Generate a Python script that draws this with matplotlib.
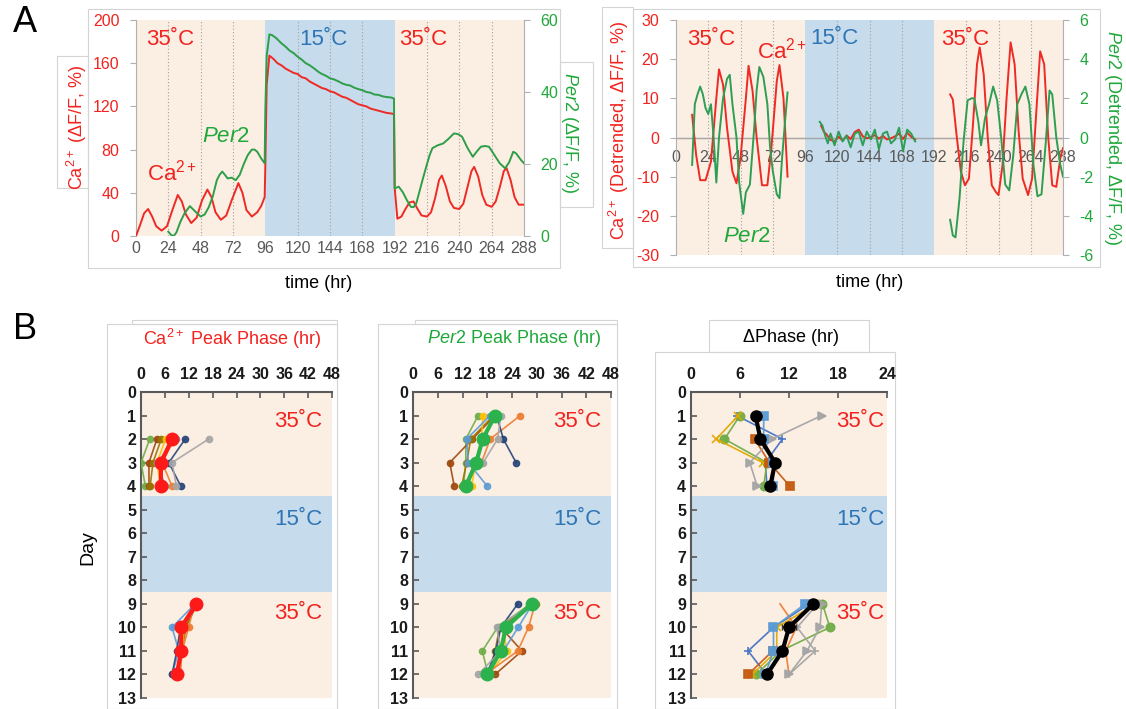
import numpy as np
import matplotlib
matplotlib.use('Agg')
import matplotlib.pyplot as plt
from matplotlib.patches import Rectangle

plt.rcParams['font.family'] = ['Liberation Sans', 'DejaVu Sans']
plt.rcParams['mathtext.fontset'] = 'custom'
plt.rcParams['mathtext.rm'] = 'Liberation Sans'
plt.rcParams['mathtext.it'] = 'Liberation Sans:italic'
plt.rcParams['mathtext.bf'] = 'Liberation Sans:bold'
plt.rcParams['axes.unicode_minus'] = False

RED = '#f2231f'
GREEN = '#1fa83a'
BLUE_TXT = '#2e75b6'
PEACH = '#fbeee3'
COOL = '#c6dbeb'
GRAY_TXT = '#595959'

# ---------------- data: panel A (raw traces) ----------------
span_edges = [0, 96, 192, 288]
span_cols = [PEACH, COOL, PEACH]
grid_hours = [24, 48, 72, 120, 144, 168, 216, 240, 264]

ca_t = [0, 3, 6, 9, 12, 15, 19, 23, 27, 31, 34, 37, 41, 45, 49, 53, 56, 59, 63, 67,
        71, 76, 79, 82, 86, 90, 93, 95.5, 96, 97, 99, 102, 105, 108, 111, 114, 117, 120, 123, 126,
        129, 132, 135, 138, 141, 144, 147, 150, 153, 156, 159, 162, 165, 168, 171, 174, 177, 180, 183, 186,
        189, 191.5, 192, 194, 197, 200, 203, 206, 209, 212, 216, 219, 222, 225, 227, 230, 233, 236, 240, 243,
        246, 249, 251, 254, 257, 260, 264, 267, 270, 273, 275, 278, 281, 284, 288]
ca_v = [0, 10, 21, 25, 18, 9, 5, 9, 24, 38, 32, 20, 12, 17, 33, 43, 36, 22, 15, 19,
        33, 49, 40, 24, 18, 22, 28, 36, 65, 140, 167, 164, 160, 158, 155, 153, 151, 150, 147, 146,
        143, 141, 139, 137, 136, 134, 133, 131, 129, 128, 126, 124, 122, 121, 120, 118, 117, 116, 115, 114,
        113.5, 113, 45, 16, 18, 25, 31, 32, 25, 19, 18, 22, 35, 52, 56, 46, 32, 26, 25, 30,
        45, 60, 64, 55, 38, 29, 27, 32, 45, 60, 63, 52, 36, 29, 29]

per_t = [24, 26, 28, 30, 33, 36, 40, 44, 48, 51, 54, 57, 60, 62, 64, 66, 68, 71, 74, 77,
         80, 83, 86, 88, 90, 93, 95.5, 96, 97, 99, 101, 104, 108, 111, 114, 117, 120, 123, 126, 129,
         132, 135, 138, 141, 144, 147, 150, 153, 156, 159, 162, 165, 168, 171, 174, 177, 180, 183, 186, 189,
         191.5, 192, 195, 198, 201, 204, 206, 208, 210, 213, 216, 218, 220, 224, 228, 232, 236, 239, 242, 246,
         250, 253, 256, 259, 262, 266, 270, 274, 277, 280, 282, 284, 286, 288]
per_v = [1.2, 0.3, 0, 1, 4, 6.3, 8.3, 6.8, 5.4, 6, 8, 11, 15.5, 17, 17.9, 17, 16, 16.2, 15.5, 17,
         20, 22.5, 24, 24, 23.4, 21.5, 20.2, 35, 50, 56, 55.8, 55, 53.5, 52.6, 51.5, 50.8, 49.8, 49, 48, 47.4,
         46.6, 45.7, 45, 44.5, 43.8, 43.5, 43, 42.4, 42, 41.8, 41.2, 40.8, 40.5, 40, 39.8, 39.3, 39.2, 38.8, 38.6, 38.5,
         38.2, 13.2, 13.7, 12.2, 10, 8.1, 8, 9, 11.8, 16, 20, 22.5, 24.4, 25.2, 25.7, 27, 28.5, 28.3, 27.6, 24.5,
         22, 23.5, 24.8, 25, 24.8, 22.5, 20.2, 18.8, 20.5, 23.4, 23, 22, 21, 20.2]

# ---------------- data: panel A (detrended) ----------------
dca_pre_t = [12, 15, 18, 22, 26, 30, 32, 35, 38, 42, 45, 48, 52, 54, 57, 60, 64, 68, 71, 75, 77, 80, 83]
dca_pre_v = [5.8, -4.5, -10.9, -10.9, -6.2, 10, 17.4, 13.5, 2.4, -8.7, -11.7, -5.3, 10, 18.3, 11.8, 0,
             -12.2, -12.2, -2.7, 14.4, 18.5, 10, -10]
dca_mid_t = [108, 110, 112, 115, 118, 121, 124, 127, 130, 133, 136, 139, 142, 145, 148, 151, 154, 157,
             160, 163, 166, 169, 172, 175, 178]
dca_mid_v = [3.0, 1.5, 0.8, -0.6, -1.0, 0.2, -0.8, 0.5, -0.4, 1.4, 2.0, 0.3, -0.2, 0.1, 0.6, -0.3, 0.4,
             -0.5, -0.2, 0.3, 1.0, -0.4, 1.2, 0.2, -0.5]
dca_post_t = [204, 206, 209, 212, 215, 218, 221, 224, 226, 229, 232, 235, 238, 240, 243, 246, 249, 252,
              255, 258, 262, 265, 268, 271, 274, 277, 280, 283, 286, 288]
dca_post_v = [11, 9.7, 0, -8.7, -12.2, -10.5, 3.3, 18.7, 23, 16.1, 0, -12.2, -13.9, -14.7, -7, 10, 24.3,
              18.7, 1.5, -10.5, -14.7, -10.5, 5.8, 22, 18.7, 0, -12.2, -12.6, -5.3, -2.7]

dper_pre_t = [12, 14, 16, 18, 20, 22, 24, 26, 28, 30, 32, 35, 38, 40, 42, 45, 47, 50, 52, 55, 58, 60,
              62, 65, 68, 70, 72, 75, 77, 79, 81, 83]
dper_pre_v = [-1.4, 1.7, 2.2, 2.6, 2.2, 1.5, 1.2, 1.7, 0, -2.3, 0, 2, 3, 3.2, 1.7, 0, -2.3, -3.9, -2.8,
              -2.4, 0.3, 2.4, 3.6, 3.1, 1.7, -0.5, -1.7, -2.9, -3.1, -1, 0.7, 2.3]
dper_mid_t = [107, 109, 111, 113, 115, 118, 121, 124, 127, 130, 133, 136, 139, 142, 145, 148, 151, 154,
              157, 160, 163, 166, 169, 172, 175, 178]
dper_mid_v = [0.8, 0.6, 0.1, -0.3, 0.2, -0.4, 0.3, -0.2, 0.1, -0.5, 0.2, 0.3, -0.4, 0.3, -0.1, 0.4,
              -0.6, 0.2, 0.3, -0.3, -0.1, 0.5, -0.7, 0.4, 0.2, -0.2]
dper_post_t = [204, 206, 208, 211, 214, 217, 220, 222, 225, 227, 230, 233, 236, 239, 242, 245, 248, 251,
               254, 257, 260, 263, 266, 269, 272, 275, 278, 280, 283, 286, 288]
dper_post_v = [-4.2, -5, -5.1, -3.1, -0.2, 1.9, 2, 2, 0.8, -0.4, 1, 1.7, 2.6, 1.9, 0, -2.4, -2.7, -0.9,
               1.7, 2.2, 2.6, 1.7, -1.4, -3, -2.9, -0.4, 2.4, 2.2, 0, -1.4, -2]

# ---------------- data: panel B (peak phases) ----------------
nan = np.nan
day_edges = [0, 4.4, 8.5, 13]
day_cols = [PEACH, COOL, PEACH]

ca_days = [2, 3, 4, 9, 10, 11, 12]
ca_cells = [
    ('#70ad47', [2.2, 0.0, 1.1, 14.0, 10.5, 10.0, 9.2]),
    ('#9e480e', [4.0, 2.0, 2.0, 14.2, 11.1, 10.1, 9.0]),
    ('#997300', [5.1, 3.0, 2.3, 14.0, 11.3, 10.3, 9.3]),
    ('#ffc000', [6.2, 4.0, 4.9, 13.5, 10.7, 10.6, 9.3]),
    ('#5b9bd5', [8.9, 4.0, 6.1, 13.6, 7.8, 9.5, 7.8]),
    ('#ed7d31', [8.4, 5.3, 7.8, 13.4, 12.0, 10.3, 9.9]),
    ('#264478', [11.1, 7.0, 10.0, 13.6, 9.9, 9.0, 7.8]),
    ('#a5a5a5', [17.0, 7.8, 8.9, nan, nan, nan, nan]),
]
ca_mean = [7.8, 5.0, 5.0, 13.9, 10.1, 10.1, 9.0]

per_days = [1, 2, 3, 4, 9, 10, 11, 12]
per_cells = [
    ('#70ad47', [15.8, 12.8, 12.8, 12.2, 28.5, 20.5, 16.8, 18.2]),
    ('#9e480e', [19.9, 14.4, 8.9, 10.0, 29.3, 21.3, 26.4, 19.9]),
    ('#997300', [19.5, 14.0, 13.0, 11.8, 29.8, 21.0, 19.9, 18.2]),
    ('#ffc000', [17.0, 16.6, 15.2, 14.2, 29.5, 21.9, 22.7, 18.5]),
    ('#5b9bd5', [18.7, 13.0, 13.4, 18.0, 29.0, 25.5, 21.9, 17.0]),
    ('#ed7d31', [26.0, 18.7, 16.6, nan, 29.6, 28.0, 25.4, 17.5]),
    ('#264478', [20.3, 21.9, 25.0, nan, 25.4, 21.3, 20.1, 17.9]),
    ('#a5a5a5', [21.3, 20.5, 17.0, nan, 28.8, 20.3, 21.3, 15.8]),
]
per_mean = [19.9, 16.9, 15.3, 12.8, 28.8, 22.5, 21.3, 18.0]

dph_days = [1, 2, 3, 4, 9, 10, 11, 12]
dph_cells = [
    ('#4472c4', '+', [5.6, 11.2, 9.1, 9.3, 14.5, 10.1, 7.0, 9.2]),
    ('#70ad47', 'o', [6.0, 4.1, 9.3, 8.9, 16.1, 17.0, 11.0, 8.0]),
    ('#e0a800', 'x', [5.8, 3.1, 8.8, nan, 15.3, 10.5, 10.5, 7.5]),
    ('#ed7d31', '', [5.2, nan, 18.1, nan, 10.9, 12.9, 11.6, 12.0]),
    ('#c55a11', 's', [nan, 7.8, 9.6, 12.1, nan, nan, 10.0, 7.0]),
    ('#a5a5a5', '>', [16.0, 9.9, 7.2, 8.1, 16.0, 15.8, 14.2, 12.0]),
    ('#a5a5a5', '+', [nan, nan, nan, nan, 15.5, 13.0, 15.2, 12.0]),
    ('#5b9bd5', 's', [8.9, 8.9, 10.1, 10.1, 14.0, 10.1, 10.1, 9.1]),
]
dph_mean = [7.9, 8.5, 10.3, 9.7, 15.0, 12.0, 11.2, 9.3]
dph_err = [0.5, 0.5, 0.6, 0.3, 0.5, 0.8, 0.5, 0.4]

# ---------------- layout helpers ----------------
W, H = 1126, 709
fig = plt.figure(figsize=(W / 100, H / 100), dpi=100)


def ax_at(x0, y0, x1, y1):
    return fig.add_axes([x0 / W, 1 - y1 / H, (x1 - x0) / W, (y1 - y0) / H])


def frame(x0, y0, x1, y1):
    fig.add_artist(Rectangle((x0 / W, 1 - y1 / H), (x1 - x0) / W, (y1 - y0) / H,
                             transform=fig.transFigure, fill=False, ec='#d4d4d4', lw=0.8, zorder=0))


frame(88, 9, 560, 268); frame(57, 56, 88, 188); frame(560, 62, 593, 207)
frame(633, 9, 1100, 267); frame(602, 7, 633, 248)
frame(107, 324, 337, 709); frame(132, 320, 337, 324)
frame(378, 324, 617, 709); frame(415, 320, 617, 324)
frame(655, 352, 895, 709); frame(709, 320, 869, 352)


def shade_time(ax):
    for a, b, c in zip(span_edges[:-1], span_edges[1:], span_cols):
        ax.axvspan(a, b, color=c, lw=0, zorder=0)
    for t in grid_hours:
        ax.axvline(t, color='#a0a0a0', ls=(0, (1, 2)), lw=0.8, zorder=1)


def style_time_axes(ax, ax2):
    for s in ['top', 'bottom']:
        ax.spines[s].set_visible(False)
        ax2.spines[s].set_visible(False)
    ax.spines['left'].set_color('#b0b0b0')
    ax2.spines['right'].set_color('#b0b0b0')
    ax2.spines['left'].set_visible(False)
    ax.spines['right'].set_visible(False)
    ax.set_xlim(0, 288)
    ax.set_xticks(range(0, 289, 24))
    ax.tick_params(axis='x', length=0, labelsize=11.5, labelcolor=GRAY_TXT)
    ax.tick_params(axis='y', colors='#b0b0b0', labelcolor=RED, labelsize=11.5, length=4, pad=8)
    ax2.tick_params(axis='y', colors='#b0b0b0', labelcolor=GREEN, labelsize=11.5, length=4, pad=8)


# ---------------- panel A left ----------------
axL = ax_at(136, 20, 524, 236)
shade_time(axL)
axL.plot(ca_t, ca_v, color='#ee2a24', lw=1.4, zorder=3)
axL.set_ylim(0, 200)
axL.set_yticks(range(0, 201, 40))
axL2 = axL.twinx()
axL2.plot(per_t, per_v, color='#2e9e48', lw=1.4, zorder=3)
axL2.set_ylim(0, 60)
axL2.set_yticks(range(0, 61, 20))
style_time_axes(axL, axL2)

axL.text(25, 182, '35˚C', color=RED, fontsize=16, ha='center', va='center')
axL.text(139, 182, '15˚C', color=BLUE_TXT, fontsize=16, ha='center', va='center')
axL.text(213, 182, '35˚C', color=RED, fontsize=16, ha='center', va='center')
axL.text(67, 92, r'$\mathit{Per2}$', color=GREEN, fontsize=16, ha='center', va='center', zorder=5)
axL.text(27, 59, 'Ca$^{2+}$', color=RED, fontsize=16, ha='center', va='center', zorder=5)
axL.text(-0.152, 0.505, r'Ca$^{2+}$ ($\mathit{\Delta}$F/F, %)', transform=axL.transAxes,
         rotation=90, color=RED, fontsize=13, ha='center', va='center')
axL.text(1.116, 0.477, r'$\mathit{Per2}$ ($\mathit{\Delta}$F/F, %)', transform=axL.transAxes,
         rotation=270, color=GREEN, fontsize=13, ha='center', va='center')
axL.text(0.47, -0.218, 'time (hr)', transform=axL.transAxes, fontsize=13, ha='center', va='center')

# ---------------- panel A right ----------------
axR = ax_at(676, 20, 1063, 255)
shade_time(axR)
for tt, vv in [(dca_pre_t, dca_pre_v), (dca_mid_t, dca_mid_v), (dca_post_t, dca_post_v)]:
    axR.plot(tt, vv, color='#ee2a24', lw=1.4, zorder=3)
axR.set_ylim(-30, 30)
axR.set_yticks(range(-30, 31, 10))
axR2 = axR.twinx()
for tt, vv in [(dper_pre_t, dper_pre_v), (dper_mid_t, dper_mid_v), (dper_post_t, dper_post_v)]:
    axR2.plot(tt, vv, color='#2e9e55', lw=1.4, zorder=3)
axR2.set_ylim(-6, 6)
axR2.set_yticks(range(-6, 7, 2))
style_time_axes(axR, axR2)
axR.axhline(0, color='#a8a8a8', lw=1.0, zorder=1)
axR.tick_params(axis='x', pad=9)
axR.spines['bottom'].set_visible(True)
axR.spines['bottom'].set_position(('data', 0))
axR.spines['bottom'].set_color('#a8a8a8')

axR.text(26, 24.9, '35˚C', color=RED, fontsize=16, ha='center', va='center')
axR.text(79, 22.3, 'Ca$^{2+}$', color=RED, fontsize=16, ha='center', va='center', zorder=5)
axR.text(118, 25.4, '15˚C', color=BLUE_TXT, fontsize=16, ha='center', va='center')
axR.text(215, 24.9, '35˚C', color=RED, fontsize=16, ha='center', va='center')
axR.text(53, -25.4, r'$\mathit{Per2}$', color=GREEN, fontsize=16, ha='center', va='center', zorder=5)
axR.text(-0.147, 0.53, r'Ca$^{2+}$ (Detrended, $\mathit{\Delta}$F/F, %)', transform=axR.transAxes,
         rotation=90, color=RED, fontsize=13, ha='center', va='center')
axR.text(1.127, 0.5, r'$\mathit{Per2}$ (Detrended, $\mathit{\Delta}$F/F, %)', transform=axR.transAxes,
         rotation=270, color=GREEN, fontsize=13, ha='center', va='center')
axR.text(0.5, -0.119, 'time (hr)', transform=axR.transAxes, fontsize=13, ha='center', va='center')


# ---------------- panel B ----------------
def phase_axes(ax, xmax, xstep, txt_x):
    for a, b, c in zip(day_edges[:-1], day_edges[1:], day_cols):
        ax.axhspan(a, b, color=c, lw=0, zorder=0)
    ax.set_xlim(0, xmax)
    ax.set_ylim(13, 0)
    ax.set_xticks(range(0, xmax + 1, xstep))
    ax.set_yticks(range(0, 14))
    ax.xaxis.tick_top()
    for s in ['right', 'bottom']:
        ax.spines[s].set_visible(False)
    for s in ['left', 'top']:
        ax.spines[s].set_color('#5a5a5a')
        ax.spines[s].set_linewidth(1.5)
    ax.tick_params(direction='in', length=4, width=1.2, color='#5a5a5a', labelsize=11.5,
                   labelcolor='#1a1a1a')
    ax.tick_params(axis='x', pad=7)
    for lab in ax.get_xticklabels() + ax.get_yticklabels():
        lab.set_fontweight('bold')
    ax.text(txt_x, 1.25, '35˚C', transform=ax.get_yaxis_transform(), color=RED, fontsize=16,
            ha='right', va='center')
    ax.text(txt_x, 5.4, '15˚C', transform=ax.get_yaxis_transform(), color=BLUE_TXT, fontsize=16,
            ha='right', va='center')
    ax.text(txt_x, 9.4, '35˚C', transform=ax.get_yaxis_transform(), color=RED, fontsize=16,
            ha='right', va='center')


def split_plot(ax, x, days, n_pre, **kw):
    ax.plot(x[:n_pre], days[:n_pre], **kw)
    ax.plot(x[n_pre:], days[n_pre:], **kw)


axB1 = ax_at(141, 392, 332, 698)
phase_axes(axB1, 48, 6, 0.95)
for col, vals in ca_cells:
    split_plot(axB1, vals, ca_days, 3, color=col, marker='o', ms=4.5, lw=1.2, alpha=0.9, zorder=3)
split_plot(axB1, ca_mean, ca_days, 3, color='#ff1a1a', marker='o', ms=9, lw=3, zorder=4)

axB2 = ax_at(413, 392, 611, 698)
phase_axes(axB2, 48, 6, 0.95)
for col, vals in per_cells:
    split_plot(axB2, vals, per_days, 4, color=col, marker='o', ms=4.5, lw=1.2, alpha=0.9, zorder=3)
split_plot(axB2, per_mean, per_days, 4, color='#2bb24c', marker='o', ms=9, lw=3, zorder=4)

axB3 = ax_at(691, 392, 887, 698)
phase_axes(axB3, 24, 6, 0.985)
for col, mk, vals in dph_cells:
    split_plot(axB3, vals, dph_days, 4, color=col, marker=mk if mk else None, ms=6, mew=1.2,
               lw=1.2, alpha=0.95, zorder=3)
for sl in (slice(0, 4), slice(4, 8)):
    axB3.errorbar(dph_mean[sl], dph_days[sl], xerr=dph_err[sl], color='black', ecolor='#333333',
                  marker='o', ms=8, lw=3, elinewidth=1.2, capsize=2.5, zorder=4)

fig.text(232 / W, 1 - 339 / H, 'Ca$^{2+}$ Peak Phase (hr)', color=RED, fontsize=13,
         ha='center', va='center')
fig.text(514 / W, 1 - 339 / H, r'$\mathit{Per2}$ Peak Phase (hr)', color=GREEN, fontsize=13,
         ha='center', va='center')
fig.text(790 / W, 1 - 338 / H, r'$\Delta$Phase (hr)', color='black', fontsize=13,
         ha='center', va='center')
fig.text(88 / W, 1 - 548 / H, 'Day', rotation=90, fontsize=14, ha='center', va='center')

fig.text(25 / W, 1 - 23 / H, 'A', fontsize=26, ha='center', va='center')
fig.text(25 / W, 1 - 330 / H, 'B', fontsize=26, ha='center', va='center')

fig.savefig('out.png', dpi=100)
